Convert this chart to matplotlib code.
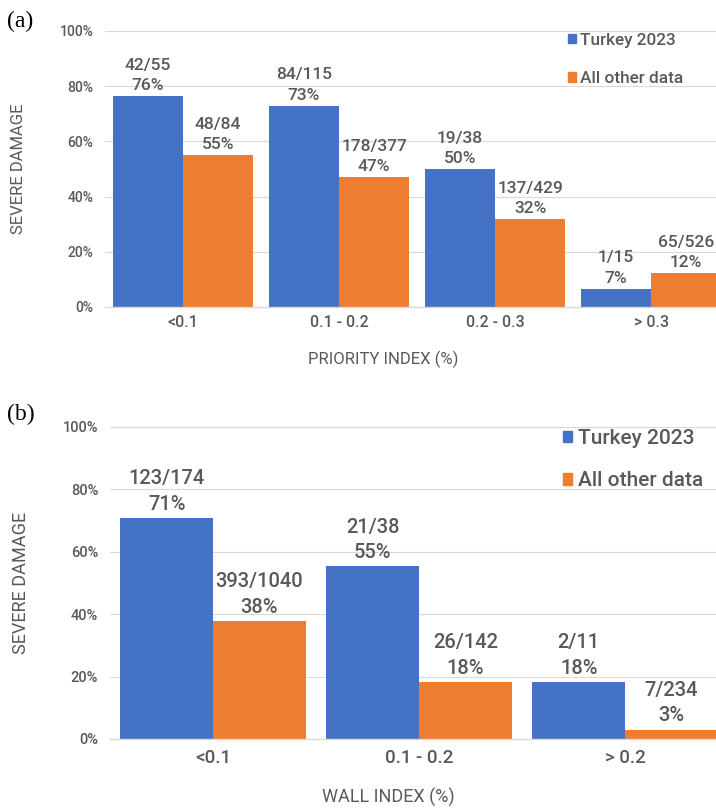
import matplotlib
matplotlib.use("Agg")
import matplotlib.pyplot as plt
import matplotlib.patches as mpatches
import numpy as np

# data
prio_cats = ['<0.1', '0.1 - 0.2', '0.2 - 0.3', '> 0.3']
prio_turkey_n = [42, 84, 19, 1]
prio_turkey_d = [55, 115, 38, 15]
prio_turkey_pct = [76.4, 73.0, 50.0, 6.7]
prio_other_n = [48, 178, 137, 65]
prio_other_d = [84, 377, 429, 526]
prio_other_pct = [55.0, 47.2, 31.9, 12.4]

wall_cats = ['<0.1', '0.1 - 0.2', '> 0.2']
wall_turkey_n = [123, 21, 2]
wall_turkey_d = [174, 38, 11]
wall_turkey_pct = [70.7, 55.3, 18.2]
wall_other_n = [393, 26, 7]
wall_other_d = [1040, 142, 234]
wall_other_pct = [37.8, 18.3, 3.0]

yticks = [0, 20, 40, 60, 80, 100]

blue = '#4472C4'
orange = '#ED7D31'
txt = '#595959'
grid = '#d9d9d9'

plt.rcParams['font.family'] = ['Roboto', 'DejaVu Sans']
plt.rcParams['font.weight'] = 500

W, H = 716, 811
fig = plt.figure(figsize=(W / 100, H / 100), dpi=100)


def px_axes(left, right, top0, bottom0):
    # pixel box -> figure fraction
    return fig.add_axes([left / W, (H - bottom0) / H, (right - left) / W, (bottom0 - top0) / H])


def panel(ax, cats, tn, td, tp, on, od, op, s):
    x = np.arange(len(cats))
    bw = 0.45
    ax.bar(x - bw / 2, tp, bw, color=blue, zorder=2)
    ax.bar(x + bw / 2, op, bw, color=orange, zorder=2)
    for xs, ns, ds, ps in [(x - bw / 2, tn, td, tp), (x + bw / 2, on, od, op)]:
        for xi, n, d, p in zip(xs, ns, ds, ps):
            ax.annotate(f"{n}/{d}\n{round(p)}%", (xi, p), xytext=(0, s['aoff']),
                        textcoords='offset points', ha='center', va='bottom',
                        fontsize=s['afs'], color=txt, linespacing=s['als'])
    ax.set_xlim(-0.5, len(cats) - 0.5)
    ax.set_ylim(0, 100)
    ax.set_yticks(yticks)
    ax.set_yticklabels([f"{v}%" for v in yticks])
    ax.set_xticks(x)
    ax.set_xticklabels(cats)
    ax.yaxis.grid(True, color=grid, lw=0.8, zorder=0)
    ax.set_axisbelow(True)
    for sp in ['top', 'right', 'left']:
        ax.spines[sp].set_visible(False)
    ax.spines['bottom'].set_color(grid)
    ax.spines['bottom'].set_linewidth(1.0)
    ax.tick_params(axis='both', length=0, colors=txt)
    ax.tick_params(axis='y', labelsize=s['yfs'], pad=8.5)
    ax.tick_params(axis='x', labelsize=s['xfs'], pad=s['xpad'])
    ax.set_ylabel('SEVERE DAMAGE', fontsize=s['lfs'], color=txt)
    ax.set_xlabel(s['xlabel'], fontsize=s['lfs'], color=txt)
    ax.yaxis.set_label_coords(s['ylx'], 0.5)
    ax.xaxis.set_label_coords(s['xlx'], s['xly'])
    handles = [mpatches.Patch(color=blue, label='Turkey 2023'),
               mpatches.Patch(color=orange, label='All other data')]
    leg = fig.legend(handles=handles, loc='upper left',
                     bbox_to_anchor=(s['legx'] / W, (H - s['legy']) / H),
                     frameon=False, fontsize=s['legfs'], handlelength=0.45,
                     handleheight=0.45, handletextpad=0.25,
                     labelspacing=s['legsp'], borderpad=0, borderaxespad=0)
    for t in leg.get_texts():
        t.set_color(txt)


ax1 = px_axes(105, 729, 31, 307)
panel(ax1, prio_cats, prio_turkey_n, prio_turkey_d, prio_turkey_pct,
      prio_other_n, prio_other_d, prio_other_pct,
      dict(aoff=2, afs=12.5, als=1.45, yfs=10, xfs=11.5, xpad=6, lfs=12,
           xlabel='PRIORITY INDEX (%)', ylx=-0.127, xlx=0.446, xly=-0.16,
           legx=568, legy=33, legfs=12.4, legsp=1.35))

ax2 = px_axes(110, 728, 427, 739)
panel(ax2, wall_cats, wall_turkey_n, wall_turkey_d, wall_turkey_pct,
      wall_other_n, wall_other_d, wall_other_pct,
      dict(aoff=3, afs=14.5, als=1.45, yfs=10.5, xfs=13.5, xpad=7, lfs=13,
           xlabel='WALL INDEX (%)', ylx=-0.13, xlx=0.451, xly=-0.155,
           legx=563, legy=429, legfs=15, legsp=1.12))

fig.text(7 / W, (H - 21) / H, '(a)', fontsize=17, family='Liberation Serif',
         weight='normal', color='black', ha='left', va='center')
fig.text(7 / W, (H - 414) / H, '(b)', fontsize=17, family='Liberation Serif',
         weight='normal', color='black', ha='left', va='center')

fig.savefig('out.png', dpi=100)
